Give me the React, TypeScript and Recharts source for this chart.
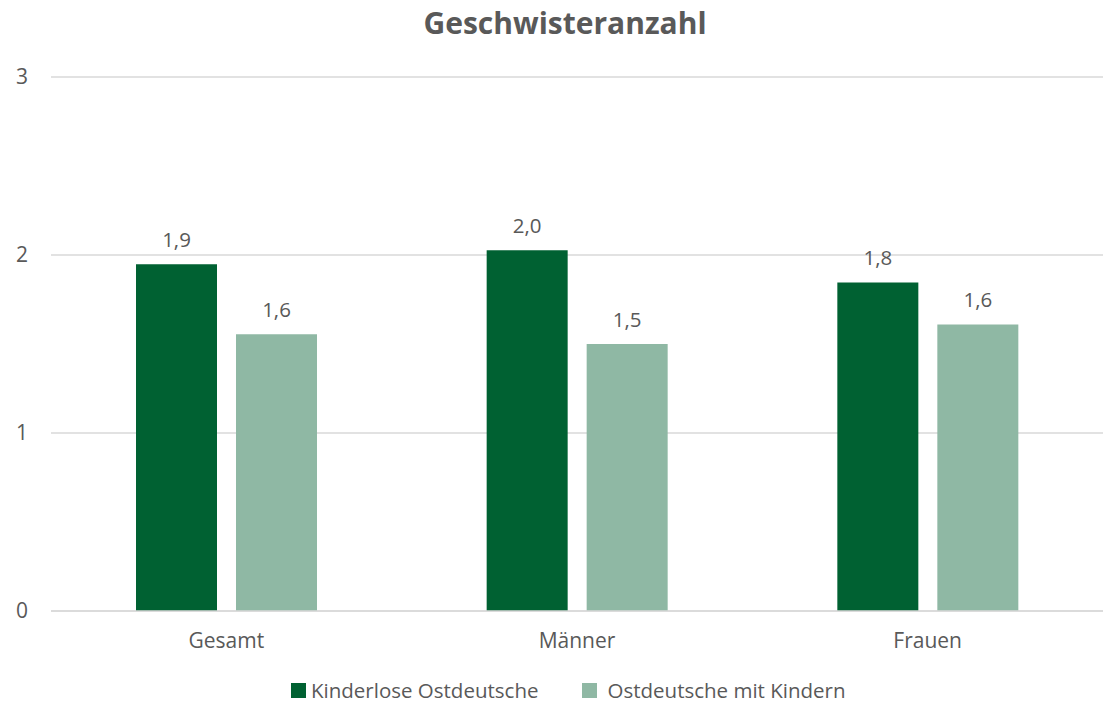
import React from 'react';
import { BarChart, Bar, XAxis, YAxis, CartesianGrid, Legend, LabelList } from 'recharts';

const categories = ['Gesamt', 'Männer', 'Frauen'];
const kinderlose = [1.948, 2.027, 1.845];
const mitKindern = [1.555, 1.5, 1.61];
const yTicks = [0, 1, 2, 3];
const seriesNames = ['Kinderlose Ostdeutsche', 'Ostdeutsche mit Kindern'];

const data = categories.map((c, i) => ({ name: c, a: kinderlose[i], b: mitKindern[i] }));

const FONT = "'Open Sans', sans-serif";
const TEXT = '#595959';
const DARK = '#006132';
const LIGHT = '#8FB8A4';

const fmt = (v: number) => v.toFixed(1).replace('.', ',');

const renderLabel = (props: any) => {
  const { x, y, width, value } = props;
  return (
    <text
      x={Number(x) + Number(width) / 2}
      y={Number(y) - 17.5}
      textAnchor="middle"
      fill={TEXT}
      fontSize={20.5}
      fontFamily={FONT}
    >
      {fmt(Number(value))}
    </text>
  );
};

const textSpan: React.CSSProperties = {
  display: 'inline-block',
  lineHeight: '20px',
  height: 20,
};

const renderLegend = () => (
  <div
    style={{
      display: 'flex',
      alignItems: 'center',
      height: 44,
      boxSizing: 'border-box',
      paddingTop: 19,
      paddingBottom: 5,
      paddingLeft: 291,
      fontFamily: FONT,
      fontSize: 20.5,
      color: TEXT,
      lineHeight: '20px',
      whiteSpace: 'nowrap',
    }}
  >
    <span style={{ display: 'inline-block', width: 15, height: 15, background: DARK, marginRight: 5 }} />
    <span style={{ ...textSpan, marginRight: 44 }}>{seriesNames[0]}</span>
    <span style={{ display: 'inline-block', width: 15, height: 15, background: LIGHT, marginRight: 10 }} />
    <span style={textSpan}>{seriesNames[1]}</span>
  </div>
);

export default function App() {
  return (
    <div style={{ position: 'absolute', left: 0, top: 0, width: 1103, height: 705, background: '#fff' }}>
      <div
        style={{
          position: 'absolute',
          left: 365,
          top: 8,
          width: 400,
          textAlign: 'center',
          fontFamily: FONT,
          fontWeight: 700,
          fontSize: 30,
          lineHeight: '30px',
          color: TEXT,
          zIndex: 2,
        }}
      >
        Geschwisteranzahl
      </div>
      <BarChart
        width={1103}
        height={705}
        data={data}
        margin={{ top: 77, right: 0, bottom: 0, left: 0 }}
        barSize={81}
        barGap={19}
        style={{ fontFamily: FONT }}
      >
        <CartesianGrid horizontal vertical={false} stroke="#D9D9D9" strokeWidth={1.3} />
        <XAxis
          dataKey="name"
          height={50}
          tickLine={false}
          tickSize={0}
          tickMargin={22}
          axisLine={{ stroke: '#D9D9D9', strokeWidth: 1.3 }}
          tick={{ fill: TEXT, fontSize: 21, fontFamily: FONT }}
        />
        <YAxis
          width={51}
          domain={[0, 3]}
          ticks={yTicks}
          axisLine={false}
          tickLine={false}
          tickSize={0}
          tickMargin={23}
          tick={{ fill: TEXT, fontSize: 21, fontFamily: FONT }}
        />
        <Legend verticalAlign="bottom" height={44} content={renderLegend} wrapperStyle={{ left: 0, width: 1103 }} />
        <Bar dataKey="a" name={seriesNames[0]} fill={DARK} isAnimationActive={false}>
          <LabelList dataKey="a" content={renderLabel} />
        </Bar>
        <Bar dataKey="b" name={seriesNames[1]} fill={LIGHT} isAnimationActive={false}>
          <LabelList dataKey="b" content={renderLabel} />
        </Bar>
      </BarChart>
    </div>
  );
}
